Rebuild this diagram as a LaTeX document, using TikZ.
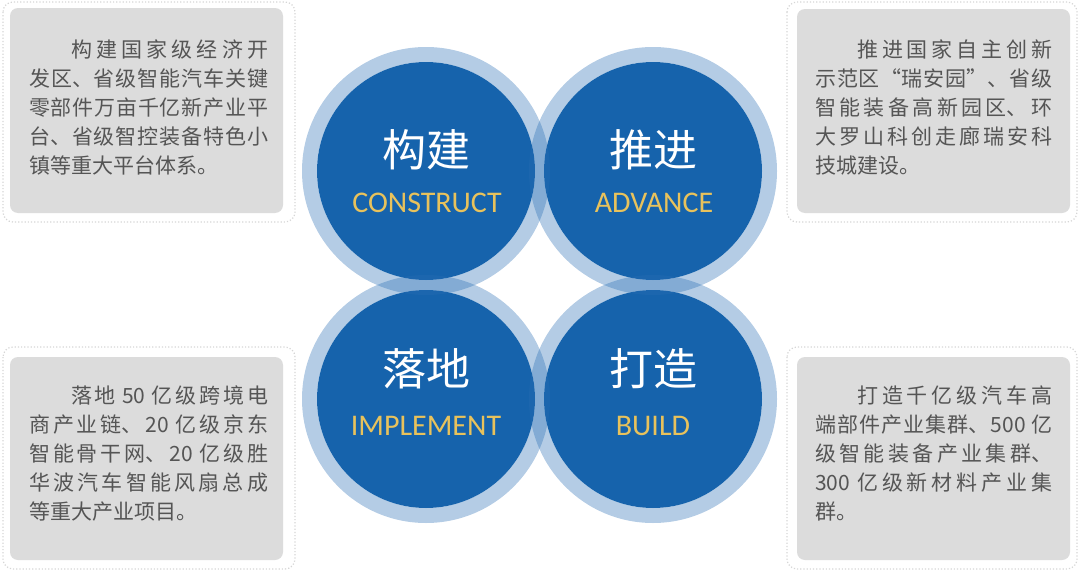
\documentclass[tikz,border=0pt]{standalone}
\usepackage{fontspec}
\setmainfont{Noto Sans CJK SC}
\newfontfamily\enfont{Carlito}
\XeTeXlinebreaklocale "zh"
\XeTeXlinebreakskip=0pt plus 4pt
\definecolor{diskblue}{RGB}{22,99,172}
\definecolor{ringblue}{RGB}{40,110,180}
\definecolor{boxgray}{RGB}{220,220,220}
\definecolor{dotgray}{RGB}{214,214,214}
\definecolor{textgray}{RGB}{85,85,85}
\definecolor{gold}{RGB}{232,194,92}
\tikzset{
  outerbox/.style={draw=dotgray, dotted, line width=1.2pt, rounded corners=10pt, fill=white},
  innerbox/.style={fill=boxgray, rounded corners=8pt},
  desc/.style={text width=239pt, align=justify, inner sep=0pt, text=textgray,
    font=\fontsize{21pt}{29pt}\selectfont, anchor=base west},
  disk/.style={circle, fill=diskblue, minimum size=218pt, inner sep=0pt},
  ring/.style={fill=ringblue, fill opacity=0.35, even odd rule},
  cntitle/.style={text=white, font=\fontsize{44pt}{44pt}\selectfont, anchor=base, inner sep=0pt},
  entitle/.style={text=gold, font=\enfont\fontsize{30pt}{30pt}\selectfont, anchor=base, inner sep=0pt}
}
\begin{document}
\begin{tikzpicture}[x=1pt,y=-1pt]
\useasboundingbox (0,0) rectangle (1080,570);
% side boxes
\draw[outerbox] (3,2) rectangle (295,222);
\fill[innerbox] (10,8) rectangle (283,213);
\draw[outerbox] (787,2) rectangle (1077,222);
\fill[innerbox] (797,9) rectangle (1070,213);
\draw[outerbox] (3,347) rectangle (295,569);
\fill[innerbox] (10,357) rectangle (283,560);
\draw[outerbox] (787,347) rectangle (1077,569);
\fill[innerbox] (797,357) rectangle (1070,560);
% circles
\node[disk] (c1) at (426,171) {};
\node[disk] (c2) at (653,171) {};
\node[disk] (c3) at (426,399) {};
\node[disk] (c4) at (653,399) {};
\fill[ring] (c1) circle (124pt) (c1) circle (109pt);
\fill[ring] (c2) circle (124pt) (c2) circle (109pt);
\fill[ring] (c3) circle (124pt) (c3) circle (109pt);
\fill[ring] (c4) circle (124pt) (c4) circle (109pt);
% circle titles
\node[cntitle] (h1) at (426,166) {构建};
\node[entitle] (e1) at (427,212) {CONSTRUCT};
\node[cntitle] (h2) at (653,166) {推进};
\node[entitle] (e2) at (654,212) {ADVANCE};
\node[cntitle] (h3) at (426,385) {落地};
\node[entitle] (e3) at (426,435) {IMPLEMENT};
\node[cntitle] (h4) at (653,385) {打造};
\node[entitle] (e4) at (653,435) {BUILD};
% descriptions
\node[desc] (d1) at (29,57) {\hspace*{2em}构建国家级经济开\linebreak 发区、省级智能汽车关键\linebreak 零部件万亩千亿新产业平\linebreak 台、省级智控装备特色小\linebreak 镇等重大平台体系。};
\node[desc, text width=237pt] (d2) at (815,57) {\hspace*{2em}推进国家自主创新\linebreak 示范区“瑞安园”、省级\linebreak 智能装备高新园区、环\linebreak 大罗山科创走廊瑞安科\linebreak 技城建设。};
\node[desc] (d3) at (29,403) {\hspace*{2em}落地 50 亿级跨境电\linebreak 商产业链、20 亿级京东\linebreak 智能骨干网、20 亿级胜\linebreak 华波汽车智能风扇总成\linebreak 等重大产业项目。};
\node[desc, text width=237pt] (d4) at (815,403) {\hspace*{2em}打造千亿级汽车高\linebreak 端部件产业集群、500 亿\linebreak 级智能装备产业集群、\linebreak 300 亿级新材料产业集\linebreak 群。};
\end{tikzpicture}
\end{document}
